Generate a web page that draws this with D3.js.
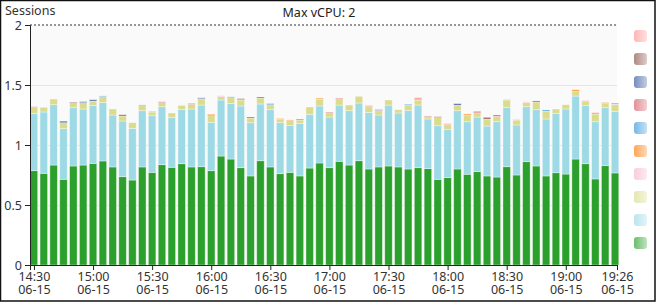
<!DOCTYPE html>
<html>
<head>
<meta charset="utf-8">
<script src="https://cdn.jsdelivr.net/npm/d3@7"></script>
<style>
html,body{margin:0;padding:0;background:#fff;}
svg{display:block;}
text{font-family:"Noto Sans","Open Sans",sans-serif;}
</style>
</head>
<body>
<svg id="chart" width="656" height="302"></svg>
<script>
// ---- data ----
const startTime = "2024-06-15T14:30:00";
const stepMinutes = 5;
const maxVcpu = 2;
const seriesNames = ["green","lightblue","khaki","lightpink","orange","blue","pink","darkblue","brown","lightred"];
const seriesColors = ["#2ca02c","#9edae5","#dbdb8d","#f7b6d2","#ff7f0e","#3a9ad9","#d6616b","#3a5ba0","#8c564b","#ff9896"];
const green = [0.786,0.764,0.833,0.714,0.825,0.833,0.847,0.867,0.817,0.736,0.708,0.817,0.772,0.836,0.814,0.844,0.817,0.819,0.786,0.908,0.883,0.811,0.742,0.869,0.817,0.761,0.772,0.742,0.808,0.850,0.811,0.864,0.833,0.869,0.800,0.817,0.825,0.817,0.800,0.811,0.803,0.714,0.728,0.800,0.756,0.778,0.742,0.733,0.819,0.750,0.861,0.825,0.742,0.769,0.758,0.883,0.844,0.717,0.828,0.767];
const lightblue = [0.478,0.511,0.503,0.422,0.486,0.467,0.481,0.486,0.433,0.464,0.431,0.469,0.472,0.483,0.414,0.453,0.483,0.514,0.403,0.467,0.464,0.514,0.444,0.473,0.477,0.425,0.392,0.439,0.448,0.475,0.422,0.469,0.453,0.481,0.472,0.433,0.508,0.450,0.489,0.522,0.414,0.447,0.400,0.486,0.438,0.455,0.416,0.461,0.495,0.417,0.458,0.469,0.475,0.495,0.542,0.525,0.484,0.477,0.483,0.514];
const khaki = [0.055,0.039,0.047,0.050,0.036,0.053,0.039,0.050,0.050,0.042,0.047,0.042,0.031,0.034,0.039,0.031,0.039,0.048,0.055,0.028,0.047,0.050,0.039,0.050,0.042,0.028,0.039,0.027,0.061,0.058,0.036,0.053,0.047,0.056,0.047,0.036,0.042,0.027,0.039,0.042,0.019,0.067,0.041,0.047,0.056,0.036,0.059,0.045,0.061,0.041,0.034,0.064,0.066,0.036,0.036,0.042,0.039,0.064,0.036,0.055];
const lightpink = [0.006,0,0,0,0,0,0,0,0,0,0,0,0.008,0,0,0.006,0,0,0,0.008,0,0,0,0,0,0,0,0,0,0,0,0,0,0,0,0,0,0,0,0,0,0,0,0,0,0,0,0,0.006,0.006,0.007,0,0,0,0,0,0.006,0,0,0.005];
const orange = [0,0,0,0,0,0,0,0,0,0,0,0,0,0,0,0,0,0,0.011,0,0,0,0,0,0,0.006,0.006,0,0,0.007,0,0,0,0,0.004,0,0,0,0.004,0.008,0,0,0,0,0.008,0,0,0,0,0,0,0,0,0,0,0.010,0,0,0.006,0];
const blue = [0,0,0,0,0,0,0,0.006,0,0,0,0.006,0,0,0,0,0,0,0,0,0.007,0,0,0,0.009,0,0,0,0,0,0,0,0,0,0,0,0,0,0.007,0,0,0,0,0,0,0,0,0,0,0,0,0,0.009,0,0,0,0,0,0,0];
const pink = [0,0,0,0,0,0,0,0,0,0,0,0,0,0.007,0,0,0.007,0.006,0,0,0,0,0,0,0,0,0,0.008,0,0,0.006,0.006,0,0,0.004,0.004,0,0,0,0,0.006,0.008,0,0,0,0.011,0,0.011,0,0,0,0,0,0,0,0,0,0,0,0];
const darkblue = [0,0,0,0.012,0,0.008,0.010,0,0,0,0,0,0,0,0,0,0,0.006,0,0,0,0.006,0.008,0.008,0,0,0,0,0,0,0,0,0,0,0,0.004,0,0,0,0,0,0,0,0.011,0,0,0,0,0,0,0,0,0,0,0,0,0,0,0,0.006];
const brown = [0,0,0,0,0.008,0,0,0,0,0.010,0,0,0,0,0,0,0,0,0,0,0,0.005,0,0,0,0,0,0,0,0,0,0,0,0,0,0,0,0,0,0,0,0,0,0,0,0,0.013,0,0,0,0,0.009,0,0,0,0,0,0,0,0];
const lightred = [0,0,0,0,0,0,0,0,0,0,0,0,0,0,0,0,0,0,0,0,0,0,0,0,0,0,0,0,0,0,0,0,0,0,0,0,0,0,0,0.012,0,0,0.009,0,0,0,0,0,0,0,0,0,0,0,0,0,0,0.012,0,0];
const yTicks = [0,0.5,1,1.5,2];
const xTickLabels = ["14:30","15:00","15:30","16:00","16:30","17:00","17:30","18:00","18:30","19:00","19:26"];
const dateLabel = "06-15";
const yLabel = "Sessions";
const titleText = "Max vCPU: 2";

// ---- build ----
const seriesValues = [green,lightblue,khaki,lightpink,orange,blue,pink,darkblue,brown,lightred];
const parse = d3.timeParse("%Y-%m-%dT%H:%M:%S");
const t0 = parse(startTime);
const rows = green.map((_, i) => {
  const r = {time: d3.timeMinute.offset(t0, i * stepMinutes)};
  seriesNames.forEach((s, k) => r[s] = seriesValues[k][i]);
  return r;
});
const stack = d3.stack().keys(seriesNames)(rows);

const svg = d3.select("#chart");
const W = 656, H = 302;
const m = {left: 30, right: 617, top: 25, bottom: 265};

const x = d3.scaleTime()
  .domain([d3.timeMinute.offset(t0, -2), d3.timeMinute.offset(t0, 296)])
  .range([m.left, m.right]);
const y = d3.scaleLinear().domain([0, maxVcpu]).range([m.bottom, m.top]);
const color = d3.scaleOrdinal().domain(seriesNames).range(seriesColors);

// plot background
svg.append("rect").attr("x", m.left).attr("y", m.top)
  .attr("width", m.right - m.left).attr("height", m.bottom - m.top).attr("fill", "#fafafa");

// grid
svg.append("g").selectAll("line").data(yTicks.filter(v => v > 0 && v < maxVcpu)).join("line")
  .attr("x1", m.left).attr("x2", m.right)
  .attr("y1", d => y(d) + 0.5).attr("y2", d => y(d) + 0.5)
  .attr("stroke", "#e6e6e6").attr("stroke-width", 1);

// bars
const barW = (x(d3.timeMinute.offset(t0, stepMinutes)) - x(t0)) * 0.76;
svg.append("g").selectAll("g").data(stack).join("g")
  .attr("fill", d => color(d.key))
  .selectAll("rect").data(d => d).join("rect")
  .attr("x", d => x(d.data.time) - barW / 2)
  .attr("width", barW)
  .attr("y", d => y(d[1]))
  .attr("height", d => Math.max(0, y(d[0]) - y(d[1])))
  .attr("stroke", "#ffffff").attr("stroke-opacity", 0.45).attr("stroke-width", 0.8);

// max line
svg.append("line").attr("x1", m.left).attr("x2", m.right)
  .attr("y1", y(maxVcpu)).attr("y2", y(maxVcpu))
  .attr("stroke", "#777").attr("stroke-width", 1.5).attr("stroke-dasharray", "2,2");

// y axis
const yAxis = d3.axisLeft(y).tickValues(yTicks).tickFormat(d3.format("")).tickSize(5).tickPadding(3);
const ga = svg.append("g").attr("transform", `translate(${m.left},0)`).call(yAxis);
ga.select(".domain").attr("stroke", "#222");
ga.selectAll(".tick line").attr("stroke", "#222");
ga.selectAll("text").attr("font-size", 12.5).attr("fill", "#333")
  .attr("font-family", "'Noto Sans', sans-serif");

// x axis
const tickTimes = xTickLabels.map(s => {
  const [h, mi] = s.split(":").map(Number);
  const d = new Date(t0); d.setHours(h, mi, 0, 0); return d;
});
const xAxis = d3.axisBottom(x).tickValues(tickTimes).tickSize(5).tickFormat(() => "");
const gx = svg.append("g").attr("transform", `translate(0,${m.bottom})`).call(xAxis);
gx.select(".domain").attr("stroke", "#222");
gx.selectAll(".tick line").attr("stroke", "#222");
gx.selectAll(".tick").each(function(d, i) {
  const g = d3.select(this);
  g.append("text").attr("fill", "#333").attr("font-size", 12.5)
    .attr("text-anchor", "middle").attr("x", 0).attr("y", 16).text(xTickLabels[i]);
  g.append("text").attr("fill", "#333").attr("font-size", 12.5)
    .attr("text-anchor", "middle").attr("x", 0).attr("y", 29).text(dateLabel);
});

// labels
svg.append("text").attr("x", 5).attr("y", 15).attr("font-size", 12.5).attr("fill", "#333").text(yLabel);
svg.append("text").attr("x", 319).attr("y", 17).attr("text-anchor", "middle")
  .attr("font-size", 12.5).attr("fill", "#222").text(titleText);

// legend (top to bottom reversed order)
const defs = svg.append("defs");
const legendOrder = seriesNames.slice().reverse();
legendOrder.forEach((s, i) => {
  const g = defs.append("linearGradient").attr("id", "lg" + i).attr("x1", "0").attr("x2", "1").attr("y1", "0").attr("y2", "0");
  g.append("stop").attr("offset", "0").attr("stop-color", color(s)).attr("stop-opacity", 0.7);
  g.append("stop").attr("offset", "1").attr("stop-color", color(s)).attr("stop-opacity", 0.3);
});
const leg = svg.append("g");
leg.selectAll("rect").data(legendOrder).join("rect")
  .attr("x", 634).attr("y", (d, i) => 30 + i * 23.0)
  .attr("width", 13).attr("height", 12).attr("rx", 3)
  .attr("fill", (d, i) => `url(#lg${i})`);

// outer border
svg.append("rect").attr("x", 0.5).attr("y", 0.5).attr("width", W - 1.5).attr("height", H - 1.5)
  .attr("fill", "none").attr("stroke", "#111").attr("stroke-width", 1.5);
</script>
</body>
</html>
